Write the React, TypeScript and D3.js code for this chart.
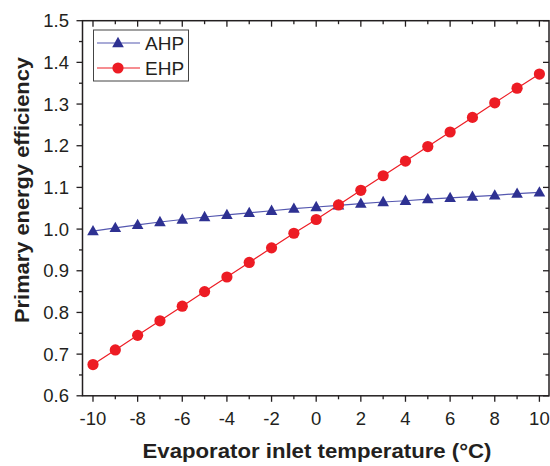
import React from "react";
import * as d3 from "d3";

const temps = [-10, -9, -8, -7, -6, -5, -4, -3, -2, -1, 0, 1, 2, 3, 4, 5, 6, 7, 8, 9, 10];
const ahp = [0.995, 1.003, 1.010, 1.017, 1.023, 1.029, 1.034, 1.039, 1.044, 1.049, 1.053, 1.057, 1.061, 1.065, 1.068, 1.072, 1.075, 1.078, 1.081, 1.085, 1.088];
const ehp = [0.675, 0.71, 0.745, 0.78, 0.815, 0.85, 0.885, 0.92, 0.955, 0.99, 1.023, 1.058, 1.093, 1.128, 1.163, 1.198, 1.233, 1.268, 1.303, 1.338, 1.372];
const xTicks = [-10, -8, -6, -4, -2, 0, 2, 4, 6, 8, 10];
const xMinor = [-9, -7, -5, -3, -1, 1, 3, 5, 7, 9];
const yTicks = [0.6, 0.7, 0.8, 0.9, 1.0, 1.1, 1.2, 1.3, 1.4, 1.5];
const yMinor = [0.65, 0.75, 0.85, 0.95, 1.05, 1.15, 1.25, 1.35, 1.45];

const L = 82.5, R = 549, T = 20.7, B = 395.8;

export default function App() {
  const x = d3.scaleLinear().domain([-10.47, 10.43]).range([L, R]);
  const y = d3.scaleLinear().domain([0.6, 1.5]).range([B, T]);
  const line = d3.line<[number, number]>().x(d => x(d[0])).y(d => y(d[1]));
  const ahpPts: [number, number][] = temps.map((t, i) => [t, ahp[i]]);
  const ehpPts: [number, number][] = temps.map((t, i) => [t, ehp[i]]);
  const blue = "#2E3192";
  const red = "#ED1C24";
  const axisC = "#231F20";
  const font = "Arial, 'Liberation Sans', sans-serif";
  const tri = (cx: number, cy: number, k: string | number) => (
    <path key={k} d={`M${cx},${cy - 6.2}L${cx + 5.8},${cy + 4.2}L${cx - 5.8},${cy + 4.2}Z`} fill={blue} />
  );
  return (
    <svg width={550} height={466} style={{ position: "absolute", left: 0, top: 0 }} fontFamily={font}>
      <rect width={550} height={466} fill="#fff" />
      <path d={line(ahpPts) || ""} fill="none" stroke="#5558B0" strokeWidth={1.2} />
      <path d={line(ehpPts) || ""} fill="none" stroke={red} strokeWidth={1.2} />
      {ahpPts.map((p, i) => tri(x(p[0]), y(p[1]), i))}
      {ehpPts.map((p, i) => (
        <circle key={i} cx={x(p[0])} cy={y(p[1])} r={5.6} fill={red} />
      ))}
      <rect x={L} y={T} width={R - L} height={B - T} fill="none" stroke={axisC} strokeWidth={1.5} />
      {xTicks.map(t => (
        <g key={"x" + t}>
          <line x1={x(t)} x2={x(t)} y1={B} y2={B + 6} stroke={axisC} strokeWidth={1.3} />
          <line x1={x(t)} x2={x(t)} y1={T} y2={T + 6} stroke={axisC} strokeWidth={1.3} />
          <text x={x(t)} y={425} textAnchor="middle" fontSize={18.5} fill={axisC}>{t}</text>
        </g>
      ))}
      {xMinor.map(t => (
        <g key={"xm" + t}>
          <line x1={x(t)} x2={x(t)} y1={B} y2={B + 3.5} stroke={axisC} strokeWidth={1.3} />
          <line x1={x(t)} x2={x(t)} y1={T} y2={T + 3.5} stroke={axisC} strokeWidth={1.3} />
        </g>
      ))}
      {yTicks.map(t => (
        <g key={"y" + t}>
          <line x1={L - 6} x2={L} y1={y(t)} y2={y(t)} stroke={axisC} strokeWidth={1.3} />
          <line x1={R - 6} x2={R} y1={y(t)} y2={y(t)} stroke={axisC} strokeWidth={1.3} />
          <text x={69} y={y(t) + 6.5} textAnchor="end" fontSize={18.5} fill={axisC}>{t.toFixed(1)}</text>
        </g>
      ))}
      {yMinor.map(t => (
        <g key={"ym" + t}>
          <line x1={L - 3.5} x2={L} y1={y(t)} y2={y(t)} stroke={axisC} strokeWidth={1.3} />
          <line x1={R - 3.5} x2={R} y1={y(t)} y2={y(t)} stroke={axisC} strokeWidth={1.3} />
        </g>
      ))}
      <text x={317} y={458} textAnchor="middle" fontSize={20.5} fontWeight="bold" fill={axisC}
        textLength={349} lengthAdjust="spacingAndGlyphs">
        Evaporator inlet temperature (°C)
      </text>
      <text transform={`translate(29,190) rotate(-90)`} textAnchor="middle" fontSize={20.5} fontWeight="bold" fill={axisC}
        textLength={266} lengthAdjust="spacingAndGlyphs">
        Primary energy efficiency
      </text>
      <rect x={93.5} y={30} width={95} height={51} fill="#fff" stroke="#444" strokeWidth={1} />
      <line x1={97} x2={140} y1={43} y2={43} stroke="#5558B0" strokeWidth={1.2} />
      {tri(118, 43, "lt")}
      <text x={145} y={50} fontSize={19} fill={axisC}>AHP</text>
      <line x1={97} x2={140} y1={68} y2={68} stroke={red} strokeWidth={1.2} />
      <circle cx={118} cy={68} r={5.6} fill={red} />
      <text x={145} y={75} fontSize={19} fill={axisC}>EHP</text>
    </svg>
  );
}
